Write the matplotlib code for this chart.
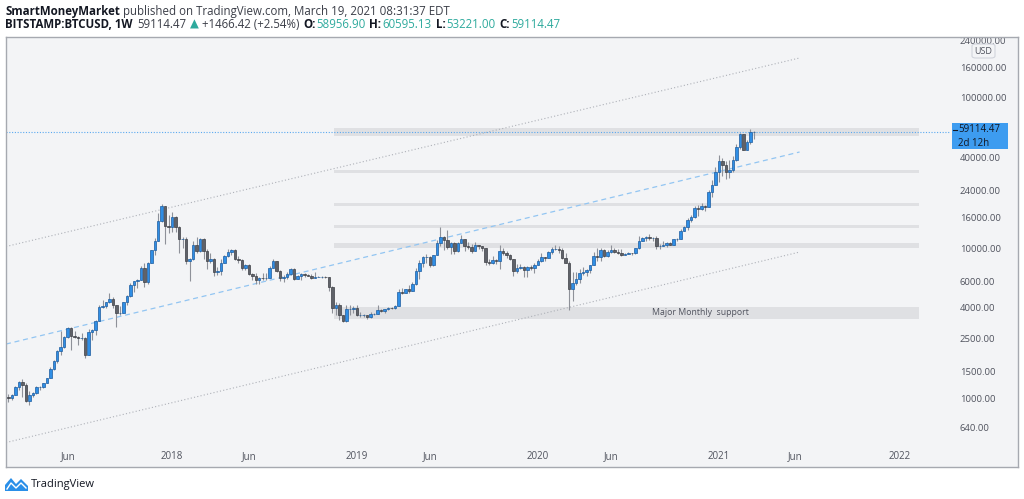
import matplotlib
matplotlib.use('Agg')
import matplotlib.pyplot as plt
import matplotlib.dates as mdates
from matplotlib.patches import Rectangle, FancyBboxPatch, Polygon
from matplotlib.ticker import NullLocator, FixedLocator, FixedFormatter
import numpy as np
import pandas as pd

# ---------------- data (weekly BTCUSD, weeks starting Monday 2017-02-06) ----------------
first_week = '2017-02-06'
first_open = 1020.0
week_close = [
    1000, 1050, 1190, 1270,                 # 2017 Feb
    1230, 960, 1040, 1080,                  # Mar
    1180, 1180, 1250, 1350,                 # Apr
    1560, 1760, 2050, 2200, 2540,           # May
    2950, 2600, 2560, 2500,                 # Jun
    2500, 1950, 2750, 2850, 3250,           # Jul
    4050, 4100, 4350, 4600,                 # Aug
    4150, 3700, 3700, 4400,                 # Sep
    4800, 5700, 6000, 6150, 7400,           # Oct
    5900, 8000, 9700, 11200,                # Nov
    15200, 19000, 14000, 13800,             # Dec
    16200, 13800, 11500, 11500, 8200,       # 2018 Jan
    8500, 10400, 9600, 11500,               # Feb
    9500, 8200, 8500, 6900,                 # Mar
    7000, 8000, 8900, 9400, 9700,           # Apr
    8500, 8300, 7400, 7700,                 # May
    6750, 6500, 6150, 6350,                 # Jun
    6300, 6350, 7400, 8200, 7000,           # Jul
    6300, 6400, 6700, 7300,                 # Aug
    6250, 6500, 6700, 6600,                 # Sep
    6550, 6350, 6450, 6450, 6450,           # Oct
    6400, 5500, 4000, 4150,                 # Nov
    3550, 3250, 3900, 3900, 4000,           # Dec
    3550, 3550, 3550, 3450,                 # 2019 Jan
    3650, 3650, 3850, 3820,                 # Feb
    3900, 4000, 3980, 4130,                 # Mar
    5100, 5050, 5300, 5200, 5800,           # Apr
    7000, 8000, 8700, 8700,                 # May
    7700, 8950, 10800, 11900,               # Jun
    11300, 10200, 10800, 9500, 10800,       # Jul
    11500, 10300, 10100, 9600,              # Aug
    10400, 10300, 10000, 8050, 7900,        # Sep
    8300, 8250, 9550, 9300,                 # Oct
    9050, 8500, 7050, 7400,                 # Nov
    7500, 7100, 7500, 7400, 7750,           # Dec
    8200, 8650, 8600, 9350,                 # 2020 Jan
    9900, 9900, 9700, 8550,                 # Feb
    8000, 5350, 5850, 6250, 6800,           # Mar
    6900, 7150, 7700, 8900,                 # Apr
    8750, 9700, 8900, 9450,                 # May
    9700, 9450, 9300, 9000, 9100,           # Jun
    9250, 9200, 9950, 11100,                # Jul
    11700, 11900, 11650, 11700, 10250,      # Aug
    10350, 10450, 10750, 10550,             # Sep
    11400, 11500, 13050, 13750,             # Oct
    15450, 16050, 18350, 18150, 19100,      # Nov
    18800, 23800, 26450, 32200,             # Dec
    38200, 36000, 32250, 33100,             # 2021 Jan
    38900, 47200, 57500, 45250,             # Feb
    51200, 58956.90, 59114.47,              # Mar
]
week_high = [
    1070, 1060, 1200, 1290,
    1330, 1260, 1110, 1100,
    1200, 1210, 1260, 1360,
    1600, 1800, 2100, 2790, 2600,
    2990, 2980, 2780, 2600,
    2700, 2550, 2900, 2900, 3300,
    4200, 4500, 4380, 4980,
    4750, 4200, 4100, 4400,
    4850, 5850, 6050, 6200, 7600,
    7900, 8100, 9750, 11700,
    17000, 19666, 19200, 16500,
    17250, 16300, 14000, 11900, 11800,
    8600, 11200, 11800, 11700,
    11700, 9900, 9200, 8550,
    7500, 8400, 9000, 9800, 9900,
    9800, 8900, 8400, 7800,
    7800, 6800, 6800, 6400,
    6800, 6800, 7600, 8500, 8250,
    7150, 6600, 6900, 7350,
    7400, 6600, 6800, 6800,
    6700, 6700, 6900, 6550, 6500,
    6550, 6450, 5600, 4400,
    4300, 3600, 4200, 4200, 4100,
    4200, 3750, 3650, 3550,
    3750, 3700, 4200, 3900,
    3950, 4050, 4050, 4150,
    5350, 5450, 5350, 5650, 5900,
    7400, 8350, 8800, 9100,
    8800, 9000, 11250, 13850,
    12000, 13150, 11000, 10900, 11000,
    12300, 11500, 10900, 10600,
    10900, 10500, 10350, 10050, 8500,
    8800, 8400, 10400, 9950,
    9500, 9100, 8500, 7850,
    7800, 7600, 7550, 7700, 7900,
    8450, 9200, 8750, 9600,
    10150, 10500, 10250, 9950,
    9200, 8200, 6950, 6950, 7200,
    7450, 7300, 7750, 9450,
    10000, 9950, 9900, 9750,
    10400, 9950, 9800, 9800, 9250,
    9450, 9300, 10000, 12000,
    11900, 12050, 12450, 11800, 12100,
    10600, 11150, 10900, 10950,
    11500, 11750, 13400, 14100,
    15950, 16500, 18950, 19450, 19900,
    19400, 24300, 28400, 34700,
    41950, 40100, 37850, 38600,
    40900, 49700, 58350, 57600,
    52600, 61800, 60595.13,
]
week_low = [
    945, 975, 1050, 1140,
    1010, 940, 900, 1010,
    1070, 1140, 1170, 1250,
    1350, 1540, 1700, 1950, 2150,
    2500, 2100, 2500, 2250,
    2450, 1840, 1940, 2450, 2650,
    3250, 3960, 3990, 4300,
    4000, 2970, 3600, 3700,
    4150, 4750, 5100, 5400, 6100,
    5500, 5800, 7900, 9000,
    11200, 15000, 10700, 12500,
    12800, 12800, 9200, 10000, 7800,
    6000, 8300, 9300, 9400,
    8400, 7300, 8000, 6500,
    6600, 6600, 7900, 8700, 9000,
    8300, 8000, 7100, 7100,
    6600, 6100, 5750, 5800,
    6100, 6100, 6300, 7400, 6900,
    6000, 5900, 6250, 6650,
    6150, 6200, 6100, 6400,
    6500, 6200, 6350, 6400, 6300,
    6350, 5200, 3700, 3600,
    3300, 3200, 3200, 3600, 3700,
    3500, 3450, 3450, 3350,
    3400, 3550, 3650, 3750,
    3700, 3850, 3900, 3950,
    4100, 4950, 5000, 5050, 5200,
    5700, 6200, 7450, 8000,
    7450, 7550, 8950, 10300,
    9700, 9800, 9100, 9100, 9400,
    10800, 9500, 9900, 9300,
    9600, 9900, 9600, 7750, 7750,
    7800, 7800, 7300, 8950,
    8550, 8350, 6500, 6850,
    7250, 6450, 6450, 7100, 6850,
    7700, 8100, 8250, 8550,
    9150, 9700, 9300, 8500,
    7900, 3850, 4450, 5700, 5850,
    6650, 6500, 6800, 7650,
    8150, 8150, 8700, 8650,
    9300, 9250, 9100, 8850, 8950,
    9100, 9000, 9150, 9900,
    11100, 11150, 11300, 11100, 9900,
    9850, 10250, 10150, 10400,
    10500, 11200, 11400, 12950,
    13250, 15000, 15850, 16250, 18000,
    17600, 18800, 21800, 26200,
    27700, 30400, 28800, 29300,
    32300, 37900, 45700, 44900,
    44950, 49400, 53221.00,
]

# horizontal supply/demand zones
zone_start = '2018-11-22'
zone_end = '2022-02-10'
zone_low = [55800, 31500, 19150, 13700, 10000, 3370]
zone_high = [63000, 33100, 20050, 14230, 10750, 4050]
zone_label = 'Major Monthly  support'

# channel lines
channel_dates = ['2017-02-01', '2021-06-15']
channel_upper = [10230, 184800]
channel_mid = [2290, 43650]
channel_lower = [505, 9400]

last_price = 59114.47

y_ticks = [640, 1000, 1500, 2500, 4000, 6000, 10000, 16000, 24000, 40000, 100000, 160000, 240000]
x_tick_dates = ['2017-06-05', '2018-01-01', '2018-06-04', '2019-01-07', '2019-06-03',
                '2020-01-06', '2020-06-01', '2021-01-04', '2021-06-07', '2022-01-03']
x_tick_labels = ['Jun', '2018', 'Jun', '2019', 'Jun', '2020', 'Jun', '2021', 'Jun', '2022']

# ---------------- figure ----------------
W, H = 1024, 499
fig = plt.figure(figsize=(W / 100, H / 100), dpi=100)
fig.patch.set_facecolor('white')
FONT = ['Open Sans', 'DejaVu Sans']
plt.rcParams['font.family'] = FONT


def fx(px):
    return px / W


def fy(py):
    return 1 - py / H


ax = fig.add_axes([fx(6), fy(467), (1018 - 6) / W, (467 - 37) / H])
ax.set_facecolor('#f3f4f6')
for s in ax.spines.values():
    s.set_color('#a6a9b0')
    s.set_linewidth(1.0)

ax.set_yscale('log')
ax.set_ylim(347, 255000)
ax.set_xlim(mdates.date2num(pd.Timestamp('2017-02-01')), mdates.date2num(pd.Timestamp('2022-08-28')))
plot_right = mdates.date2num(pd.Timestamp('2022-04-13'))

# candles
n = len(week_close)
dates = pd.date_range(first_week, periods=n, freq='7D')
xs = mdates.date2num(dates)
opens = [first_open] + week_close[:-1]
up_face, up_edge = '#2f8ee5', '#1d5c9e'
dn_face, dn_edge = '#5f6269', '#3d3f45'
for x, o, h, l, c in zip(xs, opens, week_high, week_low, week_close):
    ax.vlines(x, l, h, color='#8e9199', linewidth=0.8, zorder=3)
    up = c >= o
    bottom, top = (o, c) if up else (c, o)
    ax.bar(x, top - bottom, bottom=bottom, width=5.0,
           color=up_face if up else dn_face,
           edgecolor=up_edge if up else dn_edge, linewidth=0.5, zorder=4)

# zones
z0 = mdates.date2num(pd.Timestamp(zone_start))
z1 = mdates.date2num(pd.Timestamp(zone_end))
for lo, hi in zip(zone_low, zone_high):
    ax.add_patch(Rectangle((z0, lo), z1 - z0, hi - lo, facecolor='#dfe0e3',
                           edgecolor='none', zorder=1))
ax.text(mdates.date2num(pd.Timestamp('2020-11-27')), np.sqrt(zone_low[-1] * zone_high[-1]),
        zone_label, ha='center', va='center', fontsize=6.3, color='#50535e', zorder=5)

# channel
cd = mdates.date2num(pd.to_datetime(channel_dates))
ax.plot(cd, channel_upper, color='#aeb1b8', linewidth=0.8, linestyle=(0, (1, 2)), zorder=2)
ax.plot(cd, channel_lower, color='#aeb1b8', linewidth=0.8, linestyle=(0, (1, 2)), zorder=2)
ax.plot(cd, channel_mid, color='#92c5f2', linewidth=0.9, linestyle=(0, (4, 3)), zorder=2)

# last price line
ax.hlines(last_price, ax.get_xlim()[0], plot_right, color='#5aa9f0', linewidth=0.8,
          linestyle=(0, (1, 1.5)), zorder=2)

# axes ticks
ax.yaxis.tick_right()
ax.yaxis.set_major_locator(FixedLocator(y_ticks))
ax.yaxis.set_major_formatter(FixedFormatter(['%.2f' % v for v in y_ticks]))
ax.yaxis.set_minor_locator(NullLocator())
ax.tick_params(axis='y', which='both', length=0, pad=-(1018 - 960) * 0.72,
               labelsize=6.8, labelcolor='#50535e')
xt = mdates.date2num(pd.to_datetime(x_tick_dates))
ax.xaxis.set_major_locator(FixedLocator(xt))
ax.xaxis.set_major_formatter(FixedFormatter(x_tick_labels))
ax.xaxis.set_minor_locator(NullLocator())
ax.tick_params(axis='x', length=0, pad=-16 * 0.72, labelsize=7, labelcolor='#50535e')
for lbl in ax.get_yticklabels():
    lbl.set_clip_box(ax.bbox)
    lbl.set_clip_on(True)

# price box
fig.patches.append(Rectangle((fx(952), fy(149)), (1008 - 952) / W, (149 - 123) / H,
                             transform=fig.transFigure, facecolor='#3d9cf0', edgecolor='none'))
fig.lines.append(plt.Line2D([fx(953), fx(956.5)], [fy(130), fy(130)], transform=fig.transFigure,
                            color='#131722', linewidth=0.8))
fig.text(fx(958), fy(130), '59114.47', ha='left', va='center', fontsize=7, color='#131722')
fig.text(fx(958), fy(143), '2d 12h', ha='left', va='center', fontsize=7, color='#131722')

# USD badge
fig.patches.append(FancyBboxPatch((fx(972), fy(58)), (995 - 972) / W, (58 - 44) / H,
                                  boxstyle='round,pad=0,rounding_size=0.004',
                                  transform=fig.transFigure, facecolor='#f3f4f6',
                                  edgecolor='#d1d4dc', linewidth=0.8))
fig.text(fx(983.5), fy(51), 'USD', ha='center', va='center', fontsize=6.5, color='#50535e')

# header
fig.canvas.draw()
renderer = fig.canvas.get_renderer()


def put_parts(parts, x0, y0, size):
    x = x0
    for txt, color, weight, gap in parts:
        t = fig.text(fx(x), fy(y0), txt, ha='left', va='center', fontsize=size,
                     color=color, fontweight=weight, family=FONT)
        bb = t.get_window_extent(renderer)
        x += bb.width + gap


dark = '#131722'
mid = '#3b3e48'
teal = '#2eaa9d'
put_parts([('SmartMoneyMarket', dark, 'bold', 3),
           ('published on TradingView.com, March 19, 2021 08:31:37 EDT', mid, 'normal', 0)],
          5, 11, 8.3)
put_parts([('BITSTAMP:BTCUSD, 1W', dark, 'bold', 5),
           ('59114.47', mid, 'normal', 3),
           ('\u25B2', teal, 'normal', 3),
           ('+1466.42 (+2.54%)', mid, 'normal', 4),
           ('O:', dark, 'bold', 1), ('58956.90', teal, 'normal', 4),
           ('H:', dark, 'bold', 1), ('60595.13', teal, 'normal', 4),
           ('L:', dark, 'bold', 1), ('53221.00', teal, 'normal', 4),
           ('C:', dark, 'bold', 1), ('59114.47', teal, 'normal', 0)],
          5, 24, 8.3)

# TradingView logo
logo = Polygon([(fx(5), fy(491)), (fx(5), fy(485)), (fx(11), fy(478)), (fx(16), fy(484)),
                (fx(21), fy(479)), (fx(28), fy(486)), (fx(28), fy(491))],
               closed=True, transform=fig.transFigure, facecolor='#2a8fe8', edgecolor='none')
fig.patches.append(logo)
fig.lines.append(plt.Line2D([fx(7), fx(11), fx(16), fx(21), fx(26)],
                            [fy(489), fy(483), fy(488), fy(483), fy(488)],
                            transform=fig.transFigure, color='white', linewidth=1.0))
fig.text(fx(31), fy(484), 'TradingView', ha='left', va='center', fontsize=8, color=dark)

fig.savefig('out.png', dpi=100, facecolor='white')
